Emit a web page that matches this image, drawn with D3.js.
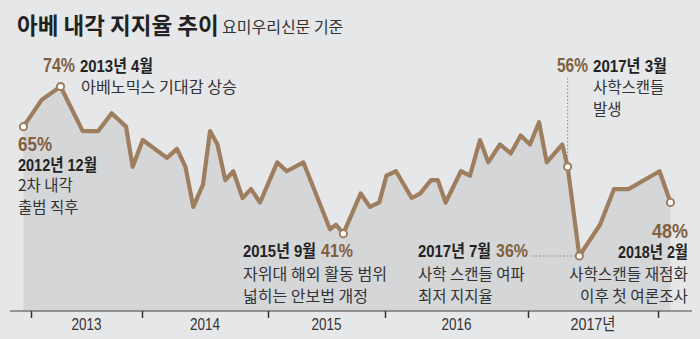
<!DOCTYPE html>
<html><head><meta charset="utf-8">
<script src="https://cdn.jsdelivr.net/npm/d3@7"></script>
<style>
html,body{margin:0;padding:0;background:#e6e7e9;}
svg{display:block;}
text{font-family:"Liberation Sans","Noto Sans CJK KR",sans-serif;}
.kr{font-family:"Noto Sans CJK KR","Noto Sans CJK SC",sans-serif;}
</style>
</head><body>
<script>
// ---- data ----
const titleText = "아베 내각 지지율 추이";
const subtitleText = "요미우리신문 기준";
const yearBounds = [2013, 2014, 2015, 2016, 2017, 2018];
const yearLabels = ["2013", "2014", "2015", "2016", "2017년"];
// survey time (decimal year) and cabinet approval (%)
const pollTimes = [2012.932, 2013.096, 2013.266, 2013.466, 2013.606, 2013.727, 2013.856, 2013.916,
  2014.006, 2014.198, 2014.278, 2014.345, 2014.407, 2014.484, 2014.540, 2014.599, 2014.661, 2014.725,
  2014.798, 2014.865, 2014.937, 2015.079, 2015.160, 2015.302, 2015.530, 2015.581, 2015.644, 2015.792,
  2015.872, 2015.951, 2016.010, 2016.077, 2016.187, 2016.245, 2016.322, 2016.369, 2016.424, 2016.531,
  2016.594, 2016.664, 2016.722, 2016.804, 2016.879, 2016.949, 2017.015, 2017.085, 2017.144, 2017.264,
  2017.305, 2017.395, 2017.554, 2017.662, 2017.773, 2018.012, 2018.096];
const pollValues = [65, 71, 74, 64, 64, 68, 65, 56,
  62, 58, 60, 56, 47, 52, 64, 61, 53, 55,
  49, 51, 48, 57, 55, 57, 42, 43, 41, 50,
  47, 48, 54, 55, 49, 50, 53, 53, 48, 55,
  54, 62, 57, 61, 59, 63, 61, 66, 57, 61,
  56, 36, 43, 51, 51, 55, 48];
const noteIndex = [0, 2, 26, 48, 49, 54];
const noteDates = ["2012년 12월", "2013년 4월", "2015년 9월", "2017년 3월", "2017년 7월", "2018년 2월"];
const notePercents = ["65%", "74%", "41%", "56%", "36%", "48%"];
const noteTexts = [["2차 내각", "출범 직후"], ["아베노믹스 기대감 상승"], ["자위대 해외 활동 범위", "넓히는 안보법 개정"],
  ["사학스캔들", "발생"], ["사학 스캔들 여파", "최저 지지율"], ["사학스캔들 재점화", "이후 첫 여론조사"]];

// ---- layout ----
const W = 700, H = 339;
const axisY = 311;
const brown = "#9e7e5f", pctColor = "#80603f", dark = "#222", textCol = "#333";

const svg = d3.select("body").append("svg").attr("width", W).attr("height", H);
svg.append("rect").attr("width", W).attr("height", H).attr("fill", "#e6e7e9");

const x = d3.scaleLinear().domain(yearBounds).range([31, 142, 268, 385, 528, 658]);
const y = d3.scaleLinear().domain([36, 74]).range([256, 86.5]);

const pts = pollTimes.map((t, i) => ({t, v: pollValues[i]}));

function squeeze(sel, len) {
  return sel.attr("textLength", len).attr("lengthAdjust", "spacingAndGlyphs");
}

// title
svg.append("text").attr("class", "kr").attr("x", 17).attr("y", 34)
  .attr("font-size", 22.5).attr("font-weight", 700).attr("fill", dark).text(titleText);
svg.append("text").attr("class", "kr").attr("x", 222).attr("y", 33)
  .attr("font-size", 16).attr("fill", textCol).text(subtitleText);

// area
svg.append("path").datum(pts)
  .attr("d", d3.area().x(d => x(d.t)).y0(axisY).y1(d => y(d.v)))
  .attr("fill", "#d5d6d8");

// leader lines
const p56 = pts[noteIndex[3]], p36 = pts[noteIndex[4]];
svg.append("line").attr("x1", x(p56.t)).attr("x2", x(p56.t)).attr("y1", 78).attr("y2", y(p56.v) - 4)
  .attr("stroke", "#8a8a8a").attr("stroke-width", 1).attr("stroke-dasharray", "1.5,2");
svg.append("line").attr("x1", 532).attr("x2", x(p36.t) - 4).attr("y1", y(p36.v)).attr("y2", y(p36.v))
  .attr("stroke", "#8a8a8a").attr("stroke-width", 1).attr("stroke-dasharray", "1.5,2");

// line
svg.append("path").datum(pts)
  .attr("d", d3.line().x(d => x(d.t)).y(d => y(d.v)))
  .attr("fill", "none").attr("stroke", brown).attr("stroke-width", 4.2)
  .attr("stroke-linejoin", "round").attr("stroke-linecap", "round");

svg.selectAll("circle.hl").data(noteIndex.map(i => pts[i])).join("circle")
  .attr("class", "hl").attr("cx", d => x(d.t)).attr("cy", d => y(d.v)).attr("r", 3.6)
  .attr("fill", "#fff").attr("stroke", brown).attr("stroke-width", 2);

// axis
const axisG = svg.append("g").attr("transform", `translate(0,${axisY})`);
axisG.append("line").attr("x1", 10).attr("x2", 692).attr("stroke", "#444").attr("stroke-width", 1.2);
const ax = d3.axisBottom(x).tickValues(yearBounds).tickSize(7).tickFormat("");
const axG2 = axisG.append("g").call(ax);
axG2.select(".domain").remove();
axG2.selectAll(".tick line").attr("stroke", "#333").attr("stroke-width", 1.5);
axisG.selectAll("text.yl").data(yearLabels).join("text").attr("class", "yl")
  .attr("x", (d, i) => x(yearBounds[i] + 0.5)).attr("y", 19).attr("text-anchor", "middle")
  .attr("font-size", 17).attr("fill", textCol).text(d => d)
  .attr("textLength", d => d.length > 4 ? 45 : 30).attr("lengthAdjust", "spacingAndGlyphs");

// annotations
function pctText(g, xx, yy, k, len, anchor, size) {
  return squeeze(g.append("text").attr("x", xx).attr("y", yy).attr("text-anchor", anchor || "start")
    .attr("fill", pctColor).attr("font-weight", 700).attr("font-size", size || 20).text(notePercents[k]), len);
}
function dateText(g, xx, yy, k, len, anchor) {
  return squeeze(g.append("text").attr("x", xx).attr("y", yy).attr("text-anchor", anchor || "start")
    .attr("font-size", 16.5).attr("font-weight", 700).attr("fill", dark).text(noteDates[k]), len);
}
function lines(g, xx, yy0, k, anchor, lens) {
  noteTexts[k].forEach((t, j) => {
    const el = g.append("text").attr("class", "kr").attr("x", xx).attr("y", yy0 + j * 22).attr("text-anchor", anchor || "start")
      .attr("font-size", 15.5).attr("fill", textCol).text(t);
    if (lens && lens[j]) squeeze(el, lens[j]);
  });
}
const ann = svg.append("g");
// 0: 65%
pctText(ann, 18, 151, 0, 34);
dateText(ann, 18, 171, 0, 79);
lines(ann, 18, 191, 0);
// 1: 74%
pctText(ann, 43, 71.5, 1, 32);
dateText(ann, 80, 71.5, 1, 73);
lines(ann, 81, 93, 1, "start", [156]);
// 2: 41%
dateText(ann, 243, 257, 2, 73);
pctText(ann, 321, 257, 2, 32, "start", 18);
lines(ann, 243, 280, 2, "start", [144, 125]);
// 3: 56%
pctText(ann, 557, 71.5, 3, 31);
dateText(ann, 593, 71.5, 3, 74);
lines(ann, 593, 93, 3);
// 4: 36%
dateText(ann, 418, 257, 4, 73);
pctText(ann, 496, 257, 4, 32, "start", 18);
lines(ann, 418, 280, 4);
// 5: 48%
pctText(ann, 688, 238, 5, 36, "end");
dateText(ann, 688, 258, 5, 70, "end");
lines(ann, 688, 280, 5, "end", [119, 108]);
</script>
</body></html>
